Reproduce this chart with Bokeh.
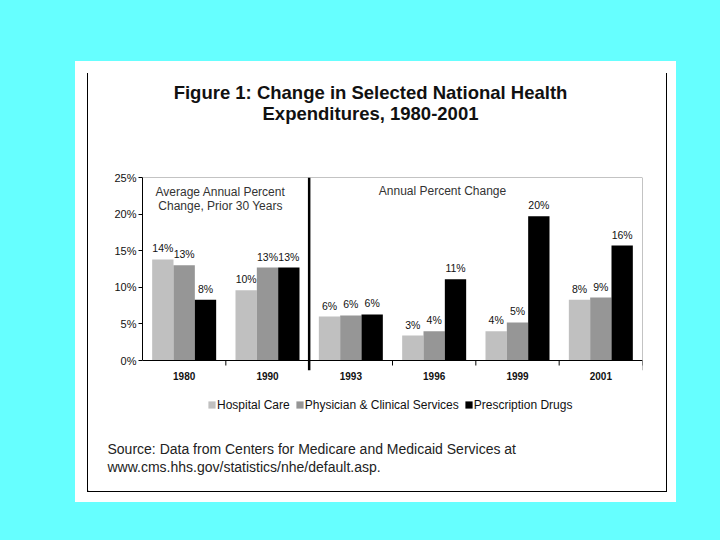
from bokeh.plotting import figure
from bokeh.layouts import column
from bokeh.models import (Range1d, FixedTicker, PrintfTickFormatter, Span, Label,
                          Legend, LegendItem)
from bokeh.embed import file_html
from bokeh.resources import INLINE
from bokeh.core.properties import value
from bokeh.core.templates import get_env

# ---------------- data ----------------
years = ["1980", "1990", "1993", "1996", "1999", "2001"]
series = ["Hospital Care", "Physician & Clinical Services", "Prescription Drugs"]
hospital = [13.8, 9.6, 6.0, 3.4, 4.0, 8.3]
physician = [13.0, 12.7, 6.15, 4.0, 5.2, 8.6]
drugs = [8.3, 12.7, 6.3, 11.1, 19.7, 15.7]
hospital_labels = ["14%", "10%", "6%", "3%", "4%", "8%"]
physician_labels = ["13%", "13%", "6%", "4%", "5%", "9%"]
drugs_labels = ["8%", "13%", "6%", "11%", "20%", "16%"]
y_ticks = [0, 5, 10, 15, 20, 25]
title_lines = ["Figure 1: Change in Selected National Health", "Expenditures, 1980-2001"]
left_note = ["Average Annual Percent", "Change, Prior 30 Years"]
right_note = "Annual Percent Change"
source_lines = ["Source:  Data from Centers for Medicare and Medicaid Services at",
                "www.cms.hhs.gov/statistics/nhe/default.asp."]

# ---------------- layout (page pixels) ----------------
CX0, CY0, CX1, CY1 = 88, 73, 666, 491      # area inside the thin black frame
CW = CX1 - CX0
SPLIT1, SPLIT2 = 170, 390                   # page y where the three strips meet
FL, FR, FT, FB = 142, 642, 177, 370         # plot area
ZERO = 360
COLORS = ["#C0C0C0", "#969696", "#000000"]
px_per = (ZERO - FT) / 25.0
y_start = -(FB - ZERO) / px_per

shadow = ("-1px 0 0 0 #000, 1px 0 0 0 #000, 0 1px 0 0 #000, "
          "-1px 1px 0 0 #000, 1px 1px 0 0 #000, -1.5px -0.5px 0 11.5px #fff")

common = dict(output_backend="svg", toolbar_location=None, outline_line_color=None,
              border_fill_color="white", background_fill_color="white",
              frame_align=False)


def strip(top_y, bottom_y):
    f = figure(width=CW, height=bottom_y - top_y, x_range=Range1d(0, CW),
               y_range=Range1d(0, bottom_y - top_y), min_border=0,
               x_axis_location=None, y_axis_location=None, **common)
    f.grid.visible = False
    return f


def add_text(f, text, px, py, bottom_y, size, style="normal", align="center",
             color="#111111"):
    f.add_layout(Label(x=px - CX0, y=bottom_y - py, x_units="screen", y_units="screen",
                       text=text, text_align=align, text_baseline="middle",
                       text_font="Liberation Sans", text_font_size=size,
                       text_font_style=style, text_color=color))


# ---- title strip ----
top = strip(CY0, SPLIT1)
add_text(top, title_lines[0], 370, 92, SPLIT1, "18.5px", "bold")
add_text(top, title_lines[1], 370, 113, SPLIT1, "18.5px", "bold")

# ---- chart ----
p = figure(width=CW, height=SPLIT2 - SPLIT1,
           x_range=Range1d(-0.5, len(years) - 0.5), y_range=Range1d(y_start, 25),
           min_border_left=FL - CX0, min_border_right=CX1 - FR,
           min_border_top=FT - SPLIT1, min_border_bottom=SPLIT2 - FB, **common)
p.xgrid.visible = False
p.ygrid.visible = False


def sx(px):
    return px - FL


def sy(py):
    return FB - py


xa = p.xaxis[0]
xa.ticker = FixedTicker(ticks=list(range(len(years))))
xa.major_label_overrides = {i: y for i, y in enumerate(years)}
xa.axis_line_color = None
xa.major_tick_line_color = None
xa.minor_tick_line_color = None
xa.major_tick_out = 0
xa.major_tick_in = 0
xa.major_label_standoff = 1
xa.major_label_text_font = "Liberation Sans"
xa.major_label_text_font_style = "bold"
xa.major_label_text_font_size = "10px"
xa.major_label_text_color = "#111111"

ya = p.yaxis[0]
ya.ticker = FixedTicker(ticks=y_ticks)
ya.formatter = PrintfTickFormatter(format="%d%%")
ya.bounds = (0, 25)
ya.axis_line_color = "black"
ya.axis_line_width = 1
ya.major_tick_out = 4
ya.major_tick_in = 0
ya.minor_tick_line_color = None
ya.major_label_standoff = 2
ya.major_label_text_font = "Liberation Sans"
ya.major_label_text_font_size = "11px"
ya.major_label_text_color = "#111111"

p.add_layout(Span(location=25, dimension="width", line_color="#888888", line_width=1))
p.add_layout(Span(location=len(years) - 0.5, dimension="height", line_color="#888888", line_width=1))

w = 0.256
offsets = [-w, 0.0, w]
for k, (vals, labs) in enumerate([(hospital, hospital_labels),
                                  (physician, physician_labels),
                                  (drugs, drugs_labels)]):
    xs = [i + offsets[k] for i in range(len(years))]
    p.vbar(x=xs, top=vals, bottom=0, width=w, fill_color=COLORS[k], line_color=None)
    p.text(x=xs, y=vals, text=labs, text_align="center", text_baseline="bottom",
           y_offset=-5, text_font=value("Liberation Sans"), text_font_size="10.5px",
           text_color="#111111")

p.add_layout(Span(location=0, dimension="width", line_color="black", line_width=1))
bx = [i + 0.5 for i in range(len(years))]
tick_len = 5 / px_per
p.segment(x0=bx, y0=[0] * len(bx), x1=bx, y1=[-tick_len] * len(bx),
          line_color="black", line_width=1)
p.add_layout(Span(location=1.5, dimension="height", line_color="black", line_width=2.5))


def add_note(text, px, py):
    p.add_layout(Label(x=sx(px), y=sy(py), x_units="screen", y_units="screen",
                       text=text, text_align="center", text_baseline="middle",
                       text_font="Liberation Sans", text_font_size="12px",
                       text_color="#333333"))


add_note(left_note[0], 220, 191)
add_note(left_note[1], 220, 205)
add_note(right_note, 442, 190)

# ---- legend + source strip ----
bot = strip(SPLIT2, CY1)
# legend-only swatch renderers, placed outside the visible range
swatches = [bot.vbar(x=[-50], top=[1], width=1, fill_color=c, line_color=None) for c in COLORS]
legend = Legend(items=[LegendItem(label=s, renderers=[r]) for s, r in zip(series, swatches)],
                orientation="horizontal", location=(207 - CX0, CY1 - 411.5),
                glyph_width=9, glyph_height=9, label_height=9, label_standoff=1,
                spacing=5, padding=0, margin=0, border_line_color=None,
                background_fill_alpha=0, label_text_font="Liberation Sans",
                label_text_font_size="12px", label_text_color="#111111")
bot.add_layout(legend)
add_text(bot, source_lines[0], 107, 448, CY1, "14px", align="left", color="#222222")
add_text(bot, source_lines[1], 107, 466, CY1, "14px", align="left", color="#222222")

page = column(top, p, bot, spacing=0, margin=(CY0, 0, 0, CX0),
              styles={"box-shadow": shadow, "background-color": "white"})

tmpl = get_env().from_string(
    '{% extends "file.html" %}{% block preamble %}'
    '<style>html, body { background-color: #66FFFF; }</style>{% endblock %}')
open("out.html", "w").write(file_html(page, INLINE, template=tmpl))
